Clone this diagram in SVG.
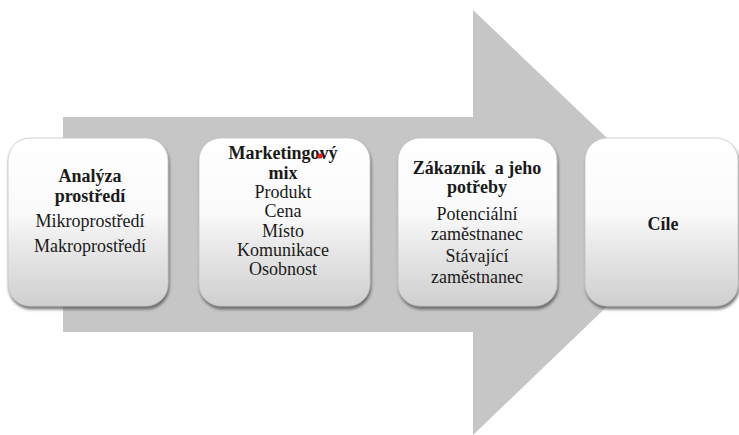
<svg xmlns="http://www.w3.org/2000/svg" width="739" height="435" viewBox="0 0 739 435">
<defs>
<linearGradient id="boxg" x1="0" y1="0" x2="0" y2="1">
<stop offset="0" stop-color="#ffffff"/>
<stop offset="0.45" stop-color="#fafafa"/>
<stop offset="0.6" stop-color="#ececec"/>
<stop offset="1" stop-color="#cfcfcf"/>
</linearGradient>
<filter id="sh" x="-10%" y="-10%" width="120%" height="125%">
<feGaussianBlur in="SourceAlpha" stdDeviation="1.5"/>
<feOffset dx="1" dy="3" result="b"/>
<feFlood flood-color="#555" flood-opacity="0.8"/>
<feComposite in2="b" operator="in"/>
<feMerge><feMergeNode/><feMergeNode in="SourceGraphic"/></feMerge>
</filter>
</defs>
<style>
.box{fill:url(#boxg);stroke:#c4c4c4;stroke-width:0.8;filter:url(#sh)}
text{font-family:"Liberation Serif","Times New Roman",serif;font-size:18px;font-weight:400;fill:#1a1a1a;text-anchor:middle}
text.b{font-weight:bold;font-size:18px}
</style>
<rect width="739" height="435" fill="#ffffff"/>
<g id="connectors">
<path d="M63 117 H473 V10 L695 222 L473 435 V332 H63 Z" fill="#c6c6c6"/>
</g>
<g id="node1">
<rect class="box" x="8" y="138" width="160" height="168" rx="22"/>
<text class="b" x="90" y="182">Analýza</text>
<text class="b" x="90" y="202">prostředí</text>
<text x="90" y="227">Mikroprostředí</text>
<text x="90" y="252">Makroprostředí</text>
</g>
<g id="node2">
<rect class="box" x="199" y="138" width="171" height="168" rx="22"/>
<text class="b" x="283" y="159">Marketingový</text>
<text class="b" x="283" y="179">mix</text>
<text x="283" y="198">Produkt</text>
<text x="283" y="217">Cena</text>
<text x="283" y="237">Místo</text>
<text x="283" y="256">Komunikace</text>
<text x="283" y="275">Osobnost</text>
<circle cx="320" cy="156" r="2.6" fill="#e0202a"/>
</g>
<g id="node3">
<rect class="box" x="398" y="138" width="159" height="168" rx="22"/>
<text class="b" x="477" y="174" style="white-space:pre">Zákazník  a jeho</text>
<text class="b" x="477" y="193">potřeby</text>
<text x="477" y="220">Potenciální</text>
<text x="477" y="240">zaměstnanec</text>
<text x="477" y="262">Stávající</text>
<text x="477" y="283">zaměstnanec</text>
</g>
<g id="node4">
<rect class="box" x="585" y="138" width="153" height="168" rx="22"/>
<text class="b" x="663" y="230">Cíle</text>
</g>
</svg>
